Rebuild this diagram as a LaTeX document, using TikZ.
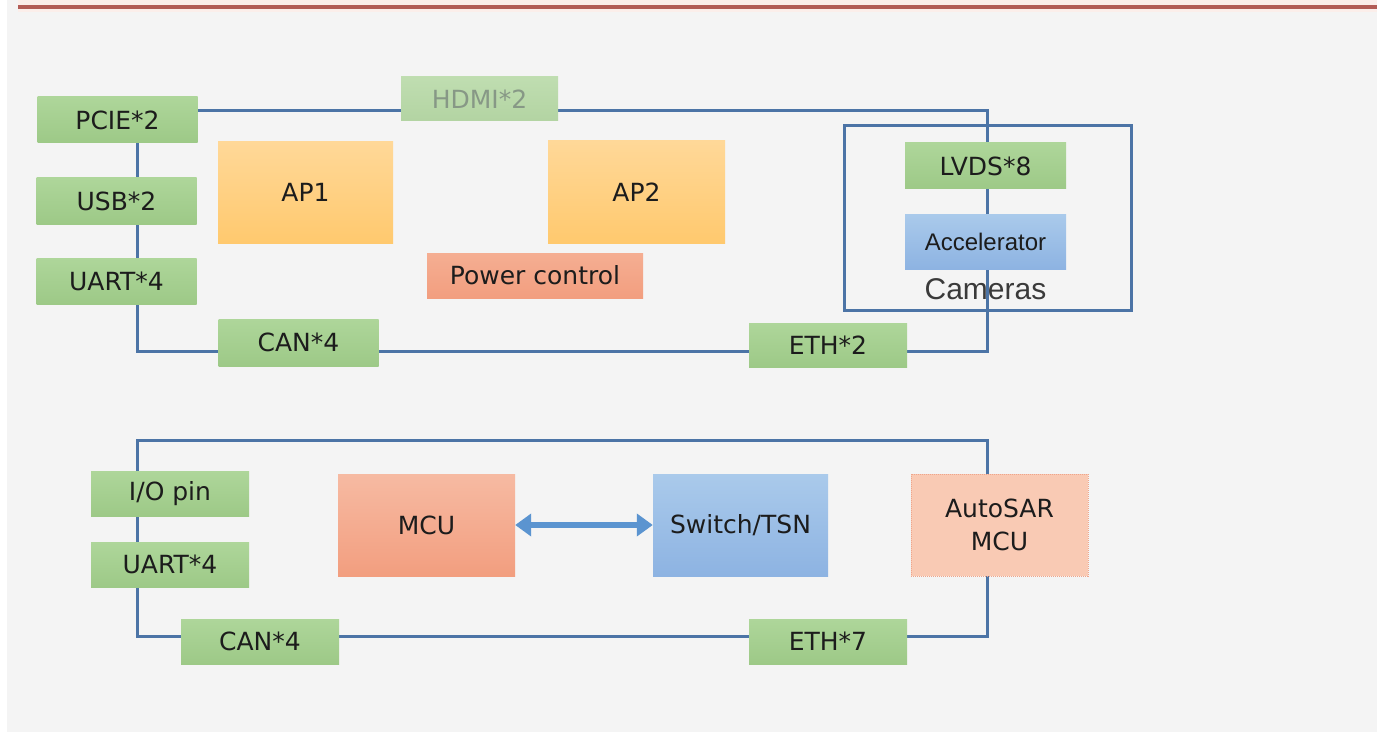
\documentclass[tikz,border=0pt]{standalone}
\usepackage{fontspec}
\setmainfont{DejaVu Sans}
\newfontfamily\arialf{Liberation Sans}
\usetikzlibrary{arrows.meta}
\definecolor{bgc}{HTML}{F4F4F4}
\definecolor{pinkband}{HTML}{FBEEEA}
\definecolor{redline}{HTML}{B25C56}
\definecolor{wire}{HTML}{4C74A6}
\definecolor{txt}{HTML}{1C1C1C}
\definecolor{grnT}{HTML}{AED69A}
\definecolor{grnB}{HTML}{9DC987}
\definecolor{orgT}{HTML}{FFD898}
\definecolor{orgB}{HTML}{FFC96E}
\definecolor{salT}{HTML}{F5AE92}
\definecolor{salB}{HTML}{F29E7F}
\definecolor{bluT}{HTML}{AACAEB}
\definecolor{bluB}{HTML}{8DB3E2}
\definecolor{autoF}{HTML}{F9CAB4}
\definecolor{autoD}{HTML}{EFA58B}
\definecolor{arrowc}{HTML}{5B94D0}
\definecolor{camtxt}{HTML}{3A3A3A}
\definecolor{hdmitxt}{HTML}{879886}
\begin{document}
\begin{tikzpicture}[x=1pt,y=-1pt,
  box/.style={rectangle, inner sep=0pt, text=txt, font=\fontsize{25}{33}\selectfont, align=center},
  grn/.style={box, top color=grnT, bottom color=grnB, minimum width=160pt, minimum height=46pt},
  apbox/.style={box, top color=orgT, bottom color=orgB, minimum width=176pt, minimum height=102pt},
  salbox/.style={box, top color=salT, bottom color=salB},
  blubox/.style={box, top color=bluT, bottom color=bluB},
  wireline/.style={draw=wire, line width=3pt},
]
% background
\useasboundingbox (0,0) rectangle (1377,733);
\fill[white] (0,0) rectangle (1377,733);
\fill[bgc] (7,0) rectangle (1377,732);
\fill[pinkband] (18,0) rectangle (1377,12);
\fill[redline] (18,5.5) rectangle (1377,9.5);

% ---------- top section wiring ----------
\coordinate (t1) at (137,111);
\coordinate (t2) at (987,111);
\coordinate (t3) at (987,351);
\coordinate (t4) at (137,351);
\draw[wireline] (t1) -- (t2) -- (t3) -- (t4) -- cycle;

% Cameras frame
\node[draw=wire, line width=3pt, minimum width=287pt, minimum height=184pt, inner sep=0pt] (camframe) at (987.5,218) {};

% top section boxes
\node[grn] (pcie) at (117.5,120) {PCIE*2};
\node[grn, text=hdmitxt, top color=grnT!75!bgc, bottom color=grnB!75!bgc, minimum width=157pt, minimum height=44pt] (hdmi) at (479.5,99) {HDMI*2};
\node[grn] (usb) at (116.5,201) {USB*2};
\node[grn] (uart1) at (116.5,281) {UART*4};
\node[grn, minimum height=47pt] (can1) at (298.5,342.5) {CAN*4};
\node[grn, minimum width=158pt, minimum height=44pt] (eth2) at (828,345) {ETH*2};
\node[apbox, minimum width=175pt] (ap1) at (305.5,192.5) {AP1};
\node[apbox, minimum width=177pt] (ap2) at (636.5,192) {AP2};
\node[salbox, minimum width=216pt, minimum height=45pt] (pwr) at (535,275.5) {Power control};
\node[grn, minimum width=161pt] (lvds) at (985.5,166) {LVDS*8};
\node[blubox, minimum width=161pt, minimum height=55pt, font=\arialf\fontsize{24}{28}\selectfont] (acc) at (985.5,241.5) {Accelerator};
\node[text=camtxt, font=\arialf\fontsize{30}{34}\selectfont, inner sep=0pt] (camlbl) at (985.5,289) {Cameras};

% ---------- bottom section wiring ----------
\coordinate (b1) at (137,440);
\coordinate (b2) at (987,440);
\coordinate (b3) at (987,636);
\coordinate (b4) at (137,636);
\draw[wireline] (b1) -- (b2) -- (b3) -- (b4) -- cycle;

\node[grn, minimum width=158pt, minimum height=45pt] (io) at (170,493.5) {I/O pin};
\node[grn, minimum width=158pt, minimum height=45pt] (uart2) at (170,564.5) {UART*4};
\node[grn, minimum width=158pt, minimum height=45pt] (can2) at (260,641.5) {CAN*4};
\node[grn, minimum width=158pt, minimum height=45pt] (eth7) at (828,641.5) {ETH*7};
\node[salbox, top color=salT!85!white, minimum width=177pt, minimum height=102pt] (mcu) at (426.5,525) {MCU};
\node[blubox, minimum width=175pt, minimum height=102pt] (sw) at (740.5,525) {Switch/TSN};
\node[box, fill=autoF, draw=autoD, densely dotted, line width=1pt, minimum width=177pt, minimum height=102pt] (auto) at (999.5,525) {AutoSAR\\MCU};

% MCU <-> Switch arrow
\draw[arrowc, line width=6pt, {Triangle[width=22pt,length=16pt]}-{Triangle[width=22pt,length=16pt]}] (mcu.east) -- (sw.west);
\end{tikzpicture}
\end{document}
